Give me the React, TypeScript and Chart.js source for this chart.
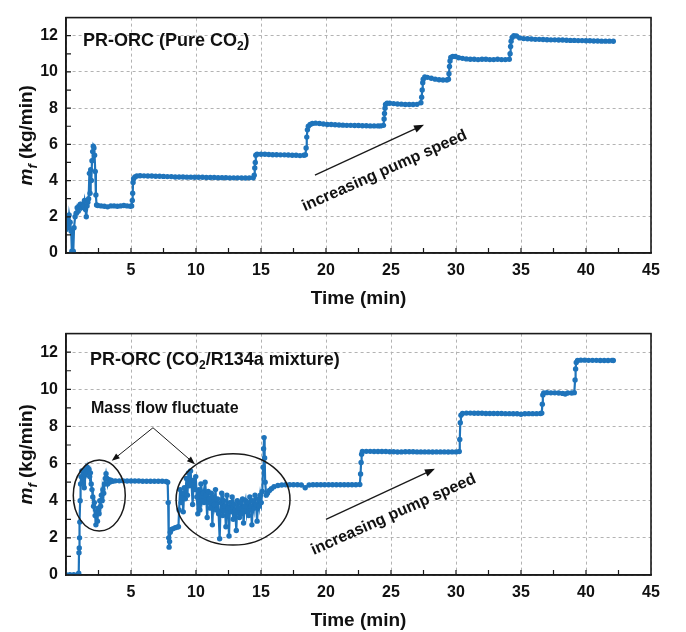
import React, { useEffect, useRef } from "react";
import { Chart, registerables } from "chart.js";
Chart.register(...registerables);

// (time [min], mass flow [kg/min]) readings — Pure CO2 run
const pureCo2Flow: [number, number][] = [
  [0.00,1.3],[0.08,2.0],[0.16,1.4],[0.24,2.1],[0.32,1.7],[0.40,1.2],[0.45,0.1],[0.50,0.0],[0.56,0.1],[0.62,1.4],
  [0.70,2.0],[0.78,2.2],[0.86,2.5],[0.94,2.3],[1.02,2.6],[1.10,2.7],[1.18,2.5],[1.26,2.7],[1.34,2.6],[1.42,2.9],
  [1.50,2.4],[1.56,2.0],[1.62,2.6],[1.68,2.8],[1.74,3.0],[1.80,4.4],[1.85,3.3],[1.90,4.6],[1.95,4.0],[2.00,5.1],
  [2.05,5.6],[2.10,5.9],[2.15,5.8],[2.20,5.4],[2.25,4.5],[2.30,3.2],[2.35,2.65],
  [2.45,2.62],[2.70,2.6],[2.95,2.58],[3.20,2.55],[3.45,2.6],[3.70,2.6],[3.95,2.58],[4.20,2.6],[4.45,2.62],[4.70,2.6],[4.95,2.58],[5.05,2.6],
  [5.10,2.9],[5.13,3.3],[5.16,3.9],[5.20,4.1],[5.30,4.2],[5.45,4.25],[5.70,4.27],
  [6.0,4.26],[6.3,4.25],[6.6,4.25],[6.9,4.24],[7.2,4.24],[7.5,4.23],[7.8,4.22],[8.1,4.22],[8.4,4.2],[8.7,4.2],
  [9.0,4.2],[9.3,4.19],[9.6,4.19],[9.9,4.18],[10.2,4.18],[10.5,4.18],[10.8,4.17],[11.1,4.17],[11.4,4.17],[11.7,4.16],
  [12.0,4.16],[12.3,4.16],[12.6,4.15],[12.9,4.15],[13.2,4.15],[13.5,4.15],[13.8,4.14],[14.1,4.15],[14.4,4.15],
  [14.48,4.3],[14.52,4.7],[14.56,5.0],[14.60,5.4],[14.70,5.45],
  [15.0,5.45],[15.3,5.45],[15.6,5.44],[15.9,5.43],[16.2,5.43],[16.5,5.42],[16.8,5.42],[17.1,5.41],[17.4,5.4],[17.7,5.4],
  [18.0,5.38],[18.3,5.4],[18.42,5.42],
  [18.47,5.8],[18.52,6.4],[18.57,6.8],[18.64,7.0],[18.78,7.1],[18.95,7.15],[19.2,7.17],[19.5,7.15],
  [19.8,7.12],[20.1,7.1],[20.4,7.1],[20.7,7.08],[21.0,7.07],[21.3,7.06],[21.6,7.05],[21.9,7.05],[22.2,7.04],[22.5,7.04],
  [22.8,7.03],[23.1,7.03],[23.4,7.02],[23.7,7.02],[24.0,7.02],[24.2,7.02],[24.42,7.05],
  [24.47,7.4],[24.5,7.7],[24.54,8.0],[24.58,8.2],[24.7,8.27],[24.9,8.27],
  [25.2,8.25],[25.5,8.23],[25.8,8.22],[26.1,8.2],[26.4,8.2],[26.7,8.2],[27.0,8.21],[27.3,8.3],
  [27.36,8.6],[27.4,9.0],[27.44,9.4],[27.48,9.6],[27.6,9.72],[27.8,9.7],
  [28.1,9.65],[28.4,9.6],[28.7,9.57],[29.0,9.55],[29.3,9.55],[29.42,9.6],
  [29.46,9.9],[29.5,10.3],[29.54,10.6],[29.6,10.8],[29.75,10.85],[29.95,10.85],
  [30.2,10.78],[30.5,10.75],[30.8,10.72],[31.1,10.7],[31.4,10.7],[31.7,10.68],[32.0,10.7],[32.3,10.7],[32.6,10.68],[32.9,10.68],
  [33.2,10.7],[33.5,10.68],[33.8,10.68],[34.1,10.7],
  [34.16,11.0],[34.2,11.4],[34.24,11.7],[34.32,11.9],[34.45,12.0],[34.65,11.98],
  [34.9,11.88],[35.2,11.84],[35.5,11.83],[35.8,11.82],[36.1,11.8],[36.4,11.8],[36.7,11.79],[37.0,11.78],[37.3,11.77],[37.6,11.77],
  [37.9,11.76],[38.2,11.76],[38.5,11.75],[38.8,11.74],[39.1,11.74],[39.4,11.73],[39.7,11.73],[40.0,11.72],[40.3,11.72],[40.6,11.71],
  [40.9,11.71],[41.2,11.7],[41.5,11.7],[41.8,11.7],[42.1,11.69],
];

// (time [min], mass flow [kg/min]) readings — CO2/R134a mixture run
const mixtureFlow: [number, number][] = [
  [0,0.02],[0.3,0.02],[0.6,0.02],[0.9,0.02],[0.98,0.1],[1.0,1.2],[1.02,1.45],[1.04,2.0],[1.06,2.85],[1.09,4.0],
  [1.12,4.9],[1.16,5.3],[1.22,5.6],[1.28,5.2],[1.34,5.5],[1.40,4.7],[1.46,5.4],[1.52,5.7],[1.58,5.5],[1.64,5.8],
  [1.70,5.6],[1.76,5.7],[1.82,5.3],[1.88,5.5],[1.94,4.9],[2.00,4.6],[2.06,4.2],[2.12,3.7],[2.18,3.9],[2.24,3.2],
  [2.30,2.7],[2.36,3.4],[2.42,2.9],[2.48,3.6],[2.54,3.3],[2.60,4.0],[2.66,3.7],[2.72,4.3],[2.78,4.0],[2.84,4.6],
  [2.90,4.4],[2.96,4.9],[3.02,5.2],[3.08,5.45],[3.14,5.2],[3.20,4.9],[3.28,5.15],[3.36,5.0],[3.46,5.1],[3.6,5.05],[3.8,5.07],
  [4.1,5.07],[4.4,5.07],[4.7,5.06],[5.0,5.06],[5.3,5.06],[5.6,5.06],[5.9,5.05],[6.2,5.05],[6.5,5.05],[6.8,5.05],
  [7.1,5.05],[7.4,5.05],[7.7,5.04],[7.82,5.0],
  [7.86,3.9],[7.90,2.0],[7.93,1.5],[7.97,1.8],[8.02,2.3],[8.1,2.45],[8.25,2.5],[8.4,2.55],[8.55,2.58],[8.65,2.6],
  [8.70,3.5],[8.78,4.6],[8.86,3.9],[8.94,4.4],[9.02,3.4],[9.10,4.7],[9.18,4.1],[9.26,5.2],[9.34,4.3],[9.42,5.5],
  [9.50,4.8],[9.58,5.6],[9.66,4.9],[9.74,3.8],[9.82,5.1],[9.90,4.6],[9.98,5.3],[10.06,4.2],[10.14,3.3],[10.22,4.6],
  [10.30,3.5],[10.38,4.9],[10.46,4.0],[10.54,4.4],[10.62,3.9],[10.70,5.0],[10.78,4.3],[10.86,3.1],[10.94,4.5],[11.02,4.1],
  [11.10,3.6],[11.18,4.4],[11.26,2.7],[11.34,4.2],[11.42,3.8],[11.50,4.6],[11.58,3.5],[11.66,4.1],[11.74,3.3],[11.82,1.95],
  [11.90,3.9],[11.98,4.4],[12.06,3.2],[12.14,4.0],[12.22,3.7],[12.30,2.6],[12.38,4.3],[12.46,3.6],[12.54,2.1],[12.62,3.9],
  [12.70,3.4],[12.78,4.2],[12.86,3.0],[12.94,3.8],[13.02,3.5],[13.10,2.4],[13.18,4.0],[13.26,3.6],[13.34,3.1],[13.42,3.9],
  [13.50,3.3],[13.58,4.1],[13.66,2.8],[13.74,3.7],[13.82,4.0],[13.90,3.4],[13.98,3.9],[14.06,3.2],[14.14,4.2],[14.22,3.7],
  [14.30,2.7],[14.38,4.0],[14.46,3.6],[14.54,4.3],[14.62,3.8],[14.70,2.9],[14.78,4.1],[14.86,3.7],[14.94,4.3],[15.02,3.9],
  [15.10,4.5],[15.16,5.8],[15.20,6.8],[15.24,7.4],[15.28,6.3],[15.32,5.0],[15.40,4.3],[15.50,4.4],[15.65,4.55],[15.8,4.65],
  [16.0,4.75],[16.3,4.82],[16.6,4.85],
  [16.9,4.86],[17.2,4.86],[17.5,4.86],[17.8,4.86],[18.1,4.85],[18.4,4.7],[18.7,4.85],[19.0,4.86],[19.3,4.86],[19.6,4.86],
  [19.9,4.86],[20.2,4.86],[20.5,4.86],[20.8,4.86],[21.1,4.86],[21.4,4.86],[21.7,4.86],[22.0,4.86],[22.3,4.86],[22.6,4.87],
  [22.66,5.44],[22.7,6.06],[22.74,6.5],[22.8,6.65],
  [23.1,6.66],[23.4,6.66],[23.7,6.65],[24.0,6.65],[24.3,6.65],[24.6,6.65],[24.9,6.64],[25.2,6.64],[25.5,6.62],[25.8,6.63],
  [26.1,6.64],[26.4,6.64],[26.7,6.64],[27.0,6.63],[27.3,6.63],[27.6,6.63],[27.9,6.63],[28.2,6.62],[28.5,6.63],[28.8,6.63],
  [29.1,6.63],[29.4,6.62],[29.7,6.63],[30.0,6.63],[30.25,6.65],
  [30.29,7.3],[30.33,8.2],[30.38,8.6],[30.5,8.7],
  [30.8,8.72],[31.1,8.72],[31.4,8.71],[31.7,8.71],[32.0,8.71],[32.3,8.7],[32.6,8.7],[32.9,8.7],[33.2,8.7],[33.5,8.7],
  [33.8,8.69],[34.1,8.69],[34.4,8.68],[34.7,8.68],[35.0,8.66],[35.3,8.68],[35.6,8.69],[35.9,8.69],[36.2,8.69],[36.5,8.7],[36.6,8.72],
  [36.64,9.2],[36.68,9.7],[36.75,9.8],
  [37.0,9.82],[37.3,9.81],[37.6,9.81],[37.9,9.8],[38.2,9.78],[38.4,9.75],[38.6,9.8],[38.9,9.8],[39.1,9.82],
  [39.16,10.5],[39.2,11.1],[39.25,11.45],[39.35,11.55],
  [39.6,11.57],[39.9,11.57],[40.2,11.56],[40.5,11.56],[40.8,11.56],[41.1,11.55],[41.4,11.55],[41.7,11.55],[42.0,11.56],[42.1,11.55],
];

const xRange = [0, 45];
const yRange = [0, 13];
const xStep = 5;
const yStep = 2;
const xTitle = "Time (min)";
const yUnit = " (kg/min)";
const arrowText = "increasing pump speed";
const noteText = "Mass flow fluctuate";

const BLUE = "#1f74bb";
const FONT = "'Liberation Sans', Arial, Helvetica, sans-serif";

type Part = { t: string; size: number; italic?: boolean; dy?: number };

function drawParts(ctx: CanvasRenderingContext2D, parts: Part[], x: number, y: number, align: "left" | "center") {
  ctx.textBaseline = "alphabetic";
  ctx.textAlign = "left";
  const fontOf = (p: Part) => `${p.italic ? "italic " : ""}bold ${p.size}px ${FONT}`;
  let total = 0;
  for (const p of parts) { ctx.font = fontOf(p); total += ctx.measureText(p.t).width; }
  let cx = align === "center" ? x - total / 2 : x;
  const base = y + parts[0].size * 0.36;
  for (const p of parts) {
    ctx.font = fontOf(p);
    ctx.fillText(p.t, cx, base + (p.dy || 0));
    cx += ctx.measureText(p.t).width;
  }
}

function arrow(ctx: CanvasRenderingContext2D, x1: number, y1: number, x2: number, y2: number, head: number, lw: number) {
  const ang = Math.atan2(y2 - y1, x2 - x1);
  ctx.lineWidth = lw;
  ctx.beginPath();
  ctx.moveTo(x1, y1);
  ctx.lineTo(x2 - Math.cos(ang) * head * 0.8, y2 - Math.sin(ang) * head * 0.8);
  ctx.stroke();
  ctx.beginPath();
  ctx.moveTo(x2, y2);
  ctx.lineTo(x2 - head * Math.cos(ang) + head * 0.38 * Math.sin(ang), y2 - head * Math.sin(ang) - head * 0.38 * Math.cos(ang));
  ctx.lineTo(x2 - head * Math.cos(ang) - head * 0.38 * Math.sin(ang), y2 - head * Math.sin(ang) + head * 0.38 * Math.cos(ang));
  ctx.closePath();
  ctx.fill();
}

type Spec = {
  key: string;
  title: Part[];
  titleAt: [number, number];
  arrowFrom: [number, number];
  arrowTo: [number, number];
  textAt: [number, number];
  textAngle: number;
  note?: boolean;
};

function makeDecor(spec: Spec) {
  return {
    id: "decor_" + spec.key,
    afterDraw(chart: any) {
      const { ctx, chartArea: a, scales } = chart;
      const X = (v: number) => scales.x.getPixelForValue(v);
      const Y = (v: number) => scales.y.getPixelForValue(v);
      ctx.save();
      ctx.strokeStyle = "#1a1a1a";
      ctx.fillStyle = "#111";
      // inward ticks
      ctx.lineWidth = 1.2;
      ctx.beginPath();
      for (let t = xRange[0] + xStep / 2; t < xRange[1]; t += xStep / 2) {
        const px = X(t);
        ctx.moveTo(px, a.bottom);
        ctx.lineTo(px, a.bottom - 5);
      }
      for (let v = yRange[0] + yStep / 2; v < yRange[1]; v += yStep / 2) {
        const py = Y(v);
        ctx.moveTo(a.left, py);
        ctx.lineTo(a.left + 5, py);
      }
      ctx.stroke();
      // frame
      ctx.lineWidth = 1.6;
      ctx.strokeRect(a.left, a.top, a.right - a.left, a.bottom - a.top);
      // y title
      ctx.save();
      ctx.translate(25, (a.top + a.bottom) / 2);
      ctx.rotate(-Math.PI / 2);
      drawParts(ctx, [
        { t: "m", size: 19, italic: true },
        { t: "f", size: 13, italic: true, dy: 5 },
        { t: yUnit, size: 19 },
      ], 0, 0, "center");
      ctx.restore();
      // x title
      drawParts(ctx, [{ t: xTitle, size: 19 }], (a.left + a.right) / 2, a.bottom + 44, "center");
      // panel title
      drawParts(ctx, spec.title, X(spec.titleAt[0]), Y(spec.titleAt[1]), "left");
      // increasing pump speed arrow
      arrow(ctx, X(spec.arrowFrom[0]), Y(spec.arrowFrom[1]), X(spec.arrowTo[0]), Y(spec.arrowTo[1]), 10, 1.3);
      ctx.save();
      ctx.translate(X(spec.textAt[0]), Y(spec.textAt[1]));
      ctx.rotate((spec.textAngle * Math.PI) / 180);
      drawParts(ctx, [{ t: arrowText, size: 16 }], 0, 0, "center");
      ctx.restore();
      if (spec.note) {
        drawParts(ctx, [{ t: noteText, size: 16 }], X(1.92), Y(9.04), "left");
        const sx = X(6.69), sy = Y(7.93);
        arrow(ctx, sx, sy, X(3.52), Y(6.15), 8, 1);
        arrow(ctx, sx, sy, X(9.92), Y(5.97), 8, 1);
        ctx.lineWidth = 1.5;
        ctx.beginPath();
        ctx.ellipse(X(2.56), Y(4.28), X(2.56 + 2.0) - X(2.56), Y(4.28) - Y(4.28 + 1.91), 0, 0, Math.PI * 2);
        ctx.stroke();
        ctx.beginPath();
        ctx.ellipse(X(12.85), Y(4.07), X(12.85 + 4.38) - X(12.85), Y(4.07) - Y(4.07 + 2.46), 0, 0, Math.PI * 2);
        ctx.stroke();
      }
      ctx.restore();
    },
  };
}

function buildConfig(points: [number, number][], spec: Spec, padTop: number, xHeight: number) {
  const tickFont = { family: FONT, size: 16, weight: "bold" as const };
  return {
    type: "line" as const,
    data: {
      datasets: [
        {
          data: points.map(([x, y]) => ({ x, y })),
          borderColor: BLUE,
          backgroundColor: BLUE,
          borderWidth: 2.2,
          pointRadius: 2.7,
          pointBorderWidth: 0,
          pointBackgroundColor: BLUE,
          tension: 0,
        },
      ],
    },
    options: {
      animation: false,
      responsive: false,
      maintainAspectRatio: false,
      events: [],
      layout: { padding: { top: padTop, right: 35, left: 0, bottom: 0 } },
      plugins: { legend: { display: false }, tooltip: { enabled: false } },
      scales: {
        x: {
          type: "linear",
          min: xRange[0],
          max: xRange[1],
          afterFit: (s: any) => { s.height = xHeight; },
          ticks: {
            stepSize: xStep,
            autoSkip: false,
            maxRotation: 0,
            padding: 8,
            color: "#111",
            font: tickFont,
            callback: (v: any) => (v === 0 ? "" : String(v)),
          },
          grid: { color: "#b3b3b3", lineWidth: 1, drawTicks: false },
          border: { color: "#1a1a1a", width: 1.6, dash: [3, 3] },
        },
        y: {
          type: "linear",
          min: yRange[0],
          max: yRange[1],
          afterFit: (s: any) => { s.width = 66; },
          ticks: {
            stepSize: yStep,
            includeBounds: false,
            padding: 8,
            color: "#111",
            font: tickFont,
          },
          grid: { color: "#b3b3b3", lineWidth: 1, drawTicks: false },
          border: { color: "#1a1a1a", width: 1.6, dash: [3, 3] },
        },
      },
    },
    plugins: [makeDecor(spec)],
  };
}

const topSpec: Spec = {
  key: "top",
  title: [
    { t: "PR-ORC (Pure CO", size: 18 },
    { t: "2", size: 12, dy: 4 },
    { t: ")", size: 18 },
  ],
  titleAt: [1.3, 11.77],
  arrowFrom: [19.15, 4.3],
  arrowTo: [27.54, 7.08],
  textAt: [24.46, 4.6],
  textAngle: -24,
};

const bottomSpec: Spec = {
  key: "bottom",
  title: [
    { t: "PR-ORC (CO", size: 18 },
    { t: "2", size: 12, dy: 4 },
    { t: "/R134a mixture)", size: 18 },
  ],
  titleAt: [1.85, 11.66],
  arrowFrom: [20.0, 3.0],
  arrowTo: [28.38, 5.72],
  textAt: [25.15, 3.32],
  textAngle: -24,
  note: true,
};

export default function App() {
  const topRef = useRef<HTMLCanvasElement>(null);
  const bottomRef = useRef<HTMLCanvasElement>(null);

  useEffect(() => {
    const c1 = new Chart(topRef.current as HTMLCanvasElement, buildConfig(pureCo2Flow, topSpec, 10, 63) as any);
    const c2 = new Chart(bottomRef.current as HTMLCanvasElement, buildConfig(mixtureFlow, bottomSpec, 16, 57) as any);
    return () => {
      c1.destroy();
      c2.destroy();
    };
  }, []);

  return (
    <div style={{ position: "absolute", left: 0, top: 0, width: 686, height: 632, background: "#fff" }}>
      <canvas ref={topRef} width={686} height={316} style={{ display: "block", width: 686, height: 316 }} />
      <canvas ref={bottomRef} width={686} height={316} style={{ display: "block", width: 686, height: 316 }} />
    </div>
  );
}
